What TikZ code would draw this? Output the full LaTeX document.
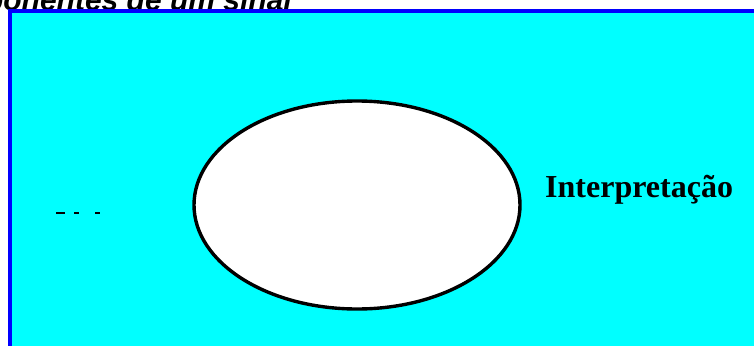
\documentclass[tikz,border=0pt]{standalone}
\usepackage{fontspec}
\usetikzlibrary{shapes.geometric}
\setmainfont{Liberation Serif}
\newfontfamily\titlefont{Liberation Sans}
\definecolor{bgcyan}{RGB}{0,255,255}
\definecolor{frameblue}{RGB}{0,0,255}
\begin{document}
\begin{tikzpicture}[x=1pt,y=-1pt,
  titlestyle/.style={inner sep=0pt,font=\titlefont\bfseries\itshape\fontsize{30}{32}\selectfont},
  labelstyle/.style={inner sep=0pt,font=\bfseries\fontsize{32}{34}\selectfont},
  markstyle/.style={line width=1.8pt,black}]
\useasboundingbox (0,0) rectangle (754,345);
\clip (0,0) rectangle (754,345);
\node[titlestyle,anchor=base east] (title) at (292,10.5) {Componentes de um sinal};
\draw[frameblue,line width=4pt,fill=bgcyan] (10,11.5) rectangle (800,400);
\node[draw=black,line width=3.4pt,fill=white,ellipse,minimum width=326pt,minimum height=208pt,inner sep=0pt] (core) at (357,205) {};
\node[labelstyle,anchor=base west] (interp) at (545,197) {Interpretação};
\coordinate (m1a) at (56,213); \coordinate (m1b) at (65,213);
\coordinate (m2a) at (74,213); \coordinate (m2b) at (79,213);
\coordinate (m3a) at (95,213); \coordinate (m3b) at (100,213);
\draw[markstyle] (m1a) -- (m1b);
\draw[markstyle] (m2a) -- (m2b);
\draw[markstyle] (m3a) -- (m3b);
\end{tikzpicture}
\end{document}
